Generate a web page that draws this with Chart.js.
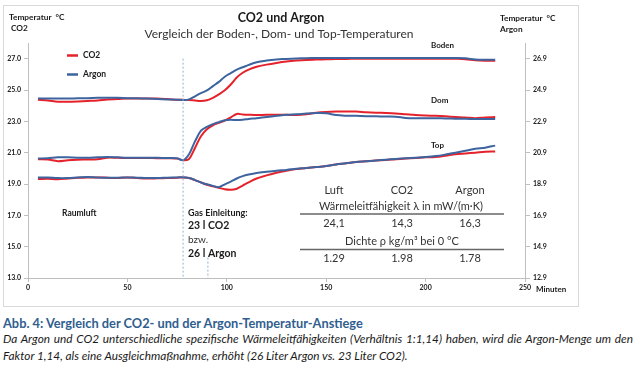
<!DOCTYPE html>
<html>
<head>
<meta charset="utf-8">
<script src="https://cdn.jsdelivr.net/npm/chart.js@4.4.0/dist/chart.umd.min.js"></script>
<style>
	body { margin: 0; background: #fff; width: 640px; height: 371px; overflow: hidden; font-family: Lato, sans-serif; }
	#rahmen { position: absolute; left: 3px; top: 5px; width: 576px; height: 302px; box-sizing: border-box; border: 1px solid #d9d9d9; }
	#temperaturen { position: absolute; left: 0; top: 0; }
	#abb { position: absolute; left: 3px; top: 315px; font-weight: bold; font-size: 12.8px; color: #2f5e8f; white-space: nowrap; }
	.text { position: absolute; left: 3px; width: 630px; font-style: italic; font-size: 11.8px; color: #1a1a1a; white-space: nowrap; }
	#zeile1 { top: 331px; text-align: justify; text-align-last: justify; }
	#zeile2 { top: 348px; }
</style>
</head>
<body>
<div id="rahmen"><canvas id="temperaturen" width="574" height="300"></canvas></div>
<div id="abb">Abb. 4: Vergleich der CO2- und der Argon-Temperatur-Anstiege</div>
<div class="text" id="zeile1">Da Argon und CO2 unterschiedliche spezifische Wärmeleitfähigkeiten (Verhältnis 1:1,14) haben, wird die Argon-Menge um den</div>
<div class="text" id="zeile2">Faktor 1,14, als eine Ausgleichmaßnahme, erhöht (26 Liter Argon vs. 23 Liter CO2).</div>
<script>
// Minuten (x-Achse)
var minuten = [5, 10, 15, 20, 25, 30, 35, 40, 45, 50, 55, 60, 65, 70, 75,
	78, 81, 84, 87, 90, 93, 96, 99, 102, 105, 108, 111,
	115, 120, 125, 130, 135, 140, 145, 150, 155, 160, 165, 170, 175, 180, 185, 190, 195, 200, 205, 210, 215, 220, 225, 230, 235];

// CO2 -> linke Achse
var bodenCO2 = [24.38, 24.33, 24.25, 24.25, 24.27, 24.30, 24.33, 24.40, 24.42, 24.45, 24.45, 24.45, 24.45, 24.42, 24.38,
	24.37, 24.36, 24.33, 24.30, 24.35, 24.50, 24.72, 24.98, 25.35, 25.80, 26.10, 26.30,
	26.48, 26.62, 26.73, 26.82, 26.88, 26.92, 26.94, 26.96, 26.98, 26.98, 27.00, 27.00, 27.00, 27.00, 27.00, 27.00, 27.00, 27.00, 27.00, 27.00, 26.99, 26.97, 26.90, 26.87, 26.87];
var domCO2 = [20.58, 20.56, 20.46, 20.52, 20.55, 20.56, 20.58, 20.68, 20.67, 20.66, 20.66, 20.66, 20.65, 20.64, 20.62,
	20.52, 20.60, 21.30, 22.05, 22.50, 22.75, 22.90, 23.05, 23.25, 23.47, 23.44, 23.42,
	23.40, 23.42, 23.42, 23.42, 23.40, 23.45, 23.55, 23.60, 23.62, 23.62, 23.62, 23.58, 23.55, 23.53, 23.50, 23.45, 23.40, 23.37, 23.35, 23.32, 23.28, 23.25, 23.20, 23.25, 23.27];
var topCO2 = [19.32, 19.33, 19.30, 19.35, 19.40, 19.42, 19.42, 19.40, 19.38, 19.42, 19.38, 19.35, 19.36, 19.38, 19.40,
	19.42, 19.38, 19.25, 19.10, 18.95, 18.85, 18.76, 18.66, 18.63, 18.70, 18.90, 19.10,
	19.35, 19.55, 19.72, 19.85, 19.95, 20.02, 20.08, 20.15, 20.25, 20.32, 20.40, 20.45, 20.50, 20.53, 20.58, 20.62, 20.66, 20.70, 20.72, 20.80, 20.90, 20.95, 21.00, 21.06, 21.08];

// Argon -> rechte Achse
var bodenArgon = [24.36, 24.36, 24.36, 24.36, 24.37, 24.38, 24.40, 24.40, 24.40, 24.38, 24.37, 24.35, 24.33, 24.30, 24.28,
	24.26, 24.30, 24.50, 24.70, 24.87, 25.15, 25.42, 25.75, 25.98, 26.20, 26.35, 26.50,
	26.67, 26.78, 26.85, 26.88, 26.91, 26.93, 26.94, 26.94, 26.94, 26.94, 26.94, 26.94, 26.94, 26.94, 26.94, 26.94, 26.94, 26.94, 26.94, 26.94, 26.94, 26.92, 26.85, 26.83, 26.83];
var domArgon = [20.53, 20.55, 20.60, 20.60, 20.58, 20.58, 20.60, 20.62, 20.60, 20.58, 20.58, 20.58, 20.57, 20.56, 20.54,
	20.42, 20.80, 21.62, 22.30, 22.55, 22.72, 22.85, 22.97, 23.00, 22.98, 23.00, 23.05,
	23.10, 23.18, 23.25, 23.32, 23.35, 23.40, 23.43, 23.42, 23.30, 23.26, 23.25, 23.23, 23.22, 23.21, 23.20, 23.12, 23.10, 23.10, 23.10, 23.08, 23.07, 23.06, 23.05, 23.05, 23.05];
var topArgon = [19.32, 19.32, 19.28, 19.28, 19.32, 19.35, 19.32, 19.30, 19.30, 19.32, 19.30, 19.28, 19.28, 19.30, 19.32,
	19.33, 19.28, 19.15, 19.00, 18.88, 18.78, 18.70, 18.88, 19.05, 19.25, 19.40, 19.50,
	19.60, 19.68, 19.75, 19.80, 19.87, 19.92, 19.98, 20.05, 20.15, 20.22, 20.30, 20.35, 20.40, 20.45, 20.50, 20.54, 20.58, 20.62, 20.68, 20.78, 20.90, 21.02, 21.15, 21.22, 21.35];

// Gas Einleitung (gestrichelte Linien)
var gasMinuten = [78, 90.5];
var gasBis = [27, 14.3];

// Achsen
var ticksCO2 = [13, 15, 17, 19, 21, 23, 25, 27];
var ticksArgon = [12.9, 14.9, 16.9, 18.9, 20.9, 22.9, 24.9, 26.9];
var ticksMinuten = [0, 50, 100, 150, 200, 250];

// Tabelle
var gase = ['Luft', 'CO2', 'Argon'];
var waermeleitung = ['24,1', '14,3', '16,3'];
var dichte = ['1.29', '1.98', '1.78'];

var ROT = '#e5222b';
var BLAU = '#3d649f';

function punkte(werte) {
	let p = [];
	for (let i = 0; i < minuten.length; i++) {
		p.push({ x: minuten[i], y: werte[i] });
	}
	return p;
}

function linie(werte, farbe, achse) {
	return {
		data: punkte(werte),
		yAxisID: achse,
		borderColor: farbe,
		borderWidth: 2,
		pointRadius: 0,
		tension: 0.35,
		fill: false
	};
}

function gasLinie(i) {
	return {
		data: [{ x: gasMinuten[i], y: gasBis[i] }, { x: gasMinuten[i], y: ticksCO2[0] }],
		yAxisID: 'y',
		borderColor: '#8eb0dc',
		borderWidth: 1,
		borderDash: [2, 2],
		pointRadius: 0
	};
}

function achsenTicks(werte) {
	return function (scale) {
		scale.ticks = werte.map(function (v) { return { value: v }; });
	};
}

var tickFont = { family: 'Lato', size: 7, weight: 'bold' };
var linienGrau = '#bfbfbf';

var texte = {
	id: 'texte',
	afterDraw: function (chart) {
		let ctx = chart.ctx;
		ctx.save();
		ctx.textBaseline = 'middle';

		function t(s, x, y, font, align, farbe) {
			ctx.font = font;
			ctx.textAlign = align || 'left';
			ctx.fillStyle = farbe || '#1a1a1a';
			ctx.fillText(s, x, y);
		}

		t('CO2 und Argon', 277, 12, 'bold 12.5px Lato', 'center');
		t('Vergleich der Boden-, Dom- und Top-Temperaturen', 275, 28, '12px Lato', 'center', '#333');

		t('Temperatur  °C', 5, 11, 'bold 8.3px Lato');
		t('CO2', 7, 22, 'bold 8.3px Lato');
		t('Temperatur  °C', 496, 12, 'bold 8.3px Lato');
		t('Argon', 496, 23, 'bold 8.3px Lato');
		t('Minuten', 532, 283, 'bold 8px Lato');

		// Legende
		ctx.lineWidth = 2.5;
		ctx.strokeStyle = ROT;
		ctx.beginPath(); ctx.moveTo(63, 49.5); ctx.lineTo(74, 49.5); ctx.stroke();
		ctx.strokeStyle = BLAU;
		ctx.beginPath(); ctx.moveTo(63, 68.5); ctx.lineTo(74, 68.5); ctx.stroke();
		t('CO2', 79, 49.5, 'bold 8.5px Lato');
		t('Argon', 79, 68.5, 'bold 8.5px Lato');

		t('Boden', 427, 39, 'bold 8px Lato');
		t('Dom', 427, 94, 'bold 8px Lato');
		t('Top', 427, 139, 'bold 8px Lato');

		t('Raumluft', 58, 207, 'bold 8.5px Lato');
		t('Gas Einleitung:', 184, 207, 'bold 9px Lato');
		t('23 l CO2', 184, 220, 'bold 10.5px Lato');
		t('bzw.', 184, 234, '10px Lato', 'left', '#333');
		t('26 l Argon', 184, 248, 'bold 10.5px Lato');

		// Tabelle
		let spalten = [330, 398, 466];
		for (let i = 0; i < gase.length; i++) {
			t(gase[i], spalten[i], 184, '11px Lato', 'center', '#333');
			t(waermeleitung[i], spalten[i], 217, '11px Lato', 'center', '#333');
			t(dichte[i], spalten[i], 252, '11px Lato', 'center', '#333');
		}
		t('Wärmeleitfähigkeit λ in mW/(m·K)', 397, 200.5, '11px Lato', 'center', '#333');
		t('Dichte ρ kg/m³ bei 0 °C', 398, 235.5, '11px Lato', 'center', '#333');
		ctx.strokeStyle = '#666';
		ctx.lineWidth = 1.5;
		ctx.beginPath(); ctx.moveTo(296, 208); ctx.lineTo(500, 208); ctx.stroke();
		ctx.beginPath(); ctx.moveTo(296, 243.5); ctx.lineTo(500, 243.5); ctx.stroke();
		ctx.restore();
	}
};

function grafikLaden() {
	let canvas = document.getElementById('temperaturen');
	new Chart(canvas, {
		type: 'line',
		data: {
			datasets: [
				gasLinie(0), gasLinie(1),
				linie(bodenArgon, BLAU, 'y2'), linie(domArgon, BLAU, 'y2'), linie(topArgon, BLAU, 'y2'),
				linie(bodenCO2, ROT, 'y'), linie(domCO2, ROT, 'y'), linie(topCO2, ROT, 'y')
			]
		},
		options: {
			responsive: false,
			animation: false,
			layout: { padding: { top: 37, left: 0, right: 0, bottom: 0 } },
			plugins: {
				legend: { display: false },
				tooltip: { enabled: false },
				title: { display: false }
			},
			scales: {
				x: {
					type: 'linear',
					min: ticksMinuten[0],
					max: ticksMinuten[ticksMinuten.length - 1],
					afterBuildTicks: achsenTicks(ticksMinuten),
					afterFit: function (s) { s.height = 28; },
					grid: { drawOnChartArea: false, drawTicks: true, tickLength: 4, color: linienGrau },
					border: { color: linienGrau },
					ticks: { font: tickFont, color: '#1a1a1a', padding: 2, maxRotation: 0 }
				},
				y: {
					position: 'left',
					min: 13,
					max: 28,
					afterBuildTicks: achsenTicks(ticksCO2),
					afterFit: function (s) { s.width = 24; },
					grid: { drawOnChartArea: false, drawTicks: true, tickLength: 4, color: linienGrau },
					border: { color: linienGrau },
					ticks: { font: tickFont, color: '#1a1a1a', padding: 3, callback: function (v) { return v.toFixed(1); } }
				},
				y2: {
					position: 'right',
					min: 12.9,
					max: 27.9,
					afterBuildTicks: achsenTicks(ticksArgon),
					afterFit: function (s) { s.width = 53; },
					grid: { drawOnChartArea: false, drawTicks: true, tickLength: 5, color: linienGrau },
					border: { color: linienGrau },
					ticks: { font: tickFont, color: '#1a1a1a', padding: 3, callback: function (v) { return v.toFixed(1); } }
				}
			}
		},
		plugins: [texte]
	});
}

grafikLaden();
</script>
</body>
</html>
